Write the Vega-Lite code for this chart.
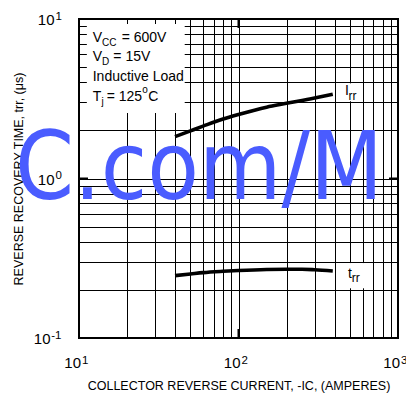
{
  "$schema": "https://vega.github.io/schema/vega-lite/v6.json",
  "width": 319,
  "height": 319,
  "autosize": {"type": "none"},
  "padding": {"left": 79, "top": 19, "right": 8, "bottom": 61},
  "background": "white",
  "config": {
    "view": {"stroke": "black", "strokeWidth": 2},
    "font": "Liberation Sans",
    "axis": {
      "domain": false,
      "ticks": false,
      "tickSize": 0,
      "gridColor": "black",
      "gridWidth": 1,
      "gridOpacity": 1,
      "labelFont": "Liberation Sans",
      "labelColor": "black",
      "labelOverlap": false,
      "labelFlush": false,
      "labelBound": false,
      "titleFont": "Liberation Sans",
      "titleFontSize": 12.5,
      "titleFontWeight": "normal",
      "titleColor": "black"
    }
  },
  "data": {"values": [{}]},
  "datasets": {
    "curves": [
      {"series": "Irr", "ic": 40, "t": 1.83},
      {"series": "Irr", "ic": 50, "t": 1.99},
      {"series": "Irr", "ic": 60, "t": 2.13},
      {"series": "Irr", "ic": 80, "t": 2.36},
      {"series": "Irr", "ic": 100, "t": 2.52},
      {"series": "Irr", "ic": 150, "t": 2.8},
      {"series": "Irr", "ic": 200, "t": 2.96},
      {"series": "Irr", "ic": 300, "t": 3.2},
      {"series": "Irr", "ic": 390, "t": 3.38},
      {"series": "trr", "ic": 40, "t": 0.246},
      {"series": "trr", "ic": 50, "t": 0.252},
      {"series": "trr", "ic": 60, "t": 0.257},
      {"series": "trr", "ic": 80, "t": 0.262},
      {"series": "trr", "ic": 100, "t": 0.265},
      {"series": "trr", "ic": 150, "t": 0.269},
      {"series": "trr", "ic": 200, "t": 0.27},
      {"series": "trr", "ic": 250, "t": 0.27},
      {"series": "trr", "ic": 300, "t": 0.268},
      {"series": "trr", "ic": 390, "t": 0.263}
    ],
    "notes": [
      {"role": "main", "text": "V", "x": 12.19, "y": 7.176},
      {"role": "sub", "text": "CC", "x": 13.94, "y": 6.77},
      {"role": "main", "text": "= 600V", "x": 18.52, "y": 7.176},
      {"role": "main", "text": "V", "x": 12.19, "y": 5.43},
      {"role": "sub", "text": "D", "x": 13.94, "y": 5.125},
      {"role": "main", "text": "= 15V", "x": 16.41, "y": 5.43},
      {"role": "main", "text": "Inductive Load", "x": 12.19, "y": 4.07},
      {"role": "main", "text": "T", "x": 12.19, "y": 3.07},
      {"role": "sub", "text": "j", "x": 13.84, "y": 2.902},
      {"role": "main", "text": "= 125", "x": 14.92, "y": 3.07},
      {"role": "sup", "text": "o", "x": 24.94, "y": 3.436},
      {"role": "main", "text": "C", "x": 27.2, "y": 3.07},
      {"role": "main", "text": "I", "x": 465, "y": 3.338},
      {"role": "csub", "text": "rr", "x": 489.5, "y": 3.106},
      {"role": "main", "text": "t", "x": 486, "y": 0.2378},
      {"role": "csub", "text": "rr", "x": 512.5, "y": 0.2245}
    ]
  },
  "resolve": {"axis": {"x": "independent", "y": "independent"}},
  "layer": [
    {
      "mark": {"type": "rect", "fill": "white"},
      "encoding": {
        "x": {"datum": 11.2, "type": "quantitative", "axis": null},
        "x2": {"datum": 46},
        "y": {"datum": 2.575, "type": "quantitative", "axis": null},
        "y2": {"datum": 9.3}
      }
    },
    {
      "mark": {"type": "rect", "fill": "white"},
      "encoding": {
        "x": {"datum": 433, "type": "quantitative", "axis": null},
        "x2": {"datum": 595},
        "y": {"datum": 3.05, "type": "quantitative", "axis": null},
        "y2": {"datum": 3.95}
      }
    },
    {
      "mark": {"type": "rect", "fill": "white"},
      "encoding": {
        "x": {"datum": 446, "type": "quantitative", "axis": null},
        "x2": {"datum": 621},
        "y": {"datum": 0.205, "type": "quantitative", "axis": null},
        "y2": {"datum": 0.295}
      }
    },
    {
      "data": {"name": "curves"},
      "mark": {"type": "line", "color": "black", "strokeWidth": 3.6, "interpolate": "monotone"},
      "encoding": {
        "x": {
          "field": "ic",
          "type": "quantitative",
          "scale": {"type": "log", "domain": [10, 1000], "nice": false, "zero": false},
          "axis": {
            "orient": "bottom",
            "grid": true,
            "title": "COLLECTOR REVERSE CURRENT, -IC, (AMPERES)",
            "values": [10, 20, 30, 40, 50, 60, 70, 80, 90, 100, 200, 300, 400, 500, 600, 700, 800, 900, 1000],
            "labelExpr": "datum.value == 10 || datum.value == 100 || datum.value == 1000 ? '10' : ''",
            "labelFontSize": 15,
            "labelAlign": "right",
            "labelBaseline": "alphabetic",
            "labelPadding": 29.3,
            "labelOffset": 1.5,
            "titleAlign": "center",
            "titleBaseline": "alphabetic",
            "titleX": 159.5,
            "titleY": 51
          }
        },
        "y": {
          "field": "t",
          "type": "quantitative",
          "scale": {"type": "log", "domain": [0.1, 10], "nice": false, "zero": false},
          "axis": {
            "orient": "left",
            "grid": true,
            "title": "REVERSE RECOVERY TIME, trr, (μs)",
            "values": [0.1, 0.2, 0.3, 0.4, 0.5, 0.6, 0.7, 0.8, 0.9, 1, 2, 3, 4, 5, 6, 7, 8, 9, 10],
            "labelExpr": "datum.value == 10 || datum.value == 1 || datum.value == 0.1 ? '10' : ''",
            "labelFontSize": 15,
            "labelAlign": "right",
            "labelBaseline": "alphabetic",
            "labelPadding": {"condition": {"test": "datum.value == 0.1", "value": 29}, "value": 25},
            "labelOffset": 5.5,
            "titleAngle": -90,
            "titleAlign": "center",
            "titleBaseline": "alphabetic",
            "titleX": -57,
            "titleY": 159.5
          }
        },
        "detail": {"field": "series"}
      }
    },
    {
      "data": {"name": "notes"},
      "transform": [{"filter": "datum.role == 'main'"}],
      "mark": {"type": "text", "align": "left", "baseline": "alphabetic", "fontSize": 14, "font": "Liberation Sans", "color": "black"},
      "encoding": {
        "x": {"field": "x", "type": "quantitative", "axis": null},
        "y": {"field": "y", "type": "quantitative", "axis": null},
        "text": {"field": "text"}
      }
    },
    {
      "data": {"name": "notes"},
      "transform": [{"filter": "datum.role == 'sub' || datum.role == 'sup'"}],
      "mark": {"type": "text", "align": "left", "baseline": "alphabetic", "fontSize": 10, "font": "Liberation Sans", "color": "black"},
      "encoding": {
        "x": {"field": "x", "type": "quantitative", "axis": null},
        "y": {"field": "y", "type": "quantitative", "axis": null},
        "text": {"field": "text"}
      }
    },
    {
      "data": {"name": "notes"},
      "transform": [{"filter": "datum.role == 'csub'"}],
      "mark": {"type": "text", "align": "left", "baseline": "alphabetic", "fontSize": 12, "font": "Liberation Sans", "color": "black"},
      "encoding": {
        "x": {"field": "x", "type": "quantitative", "axis": null},
        "y": {"field": "y", "type": "quantitative", "axis": null},
        "text": {"field": "text"}
      }
    },
    {
      "mark": {"type": "rule", "color": "black", "strokeWidth": 2},
      "encoding": {
        "x": {
          "datum": 100,
          "type": "quantitative",
          "axis": {
            "orient": "bottom",
            "grid": false,
            "title": null,
            "values": [10, 100, 1000],
            "labelExpr": "datum.value == 10 ? '1' : datum.value == 100 ? '2' : '3'",
            "labelFontSize": 11.5,
            "labelAlign": "left",
            "labelBaseline": "alphabetic",
            "labelPadding": 25.3,
            "labelOffset": 2.5
          }
        },
        "y": {
          "datum": 0.1,
          "type": "quantitative",
          "axis": {
            "orient": "left",
            "grid": false,
            "title": null,
            "values": [0.1, 1, 10],
            "labelExpr": "datum.value == 10 ? '1' : datum.value == 1 ? '0' : '-1'",
            "labelFontSize": 11.5,
            "labelAlign": "left",
            "labelBaseline": "alphabetic",
            "labelPadding": {"condition": {"test": "datum.value == 0.1", "value": 28.3}, "value": 24},
            "labelOffset": 0
          }
        },
        "y2": {"datum": 0.1139}
      }
    },
    {
      "mark": {"type": "rule", "color": "black", "strokeWidth": 2},
      "encoding": {
        "x": {"datum": 100, "type": "quantitative", "axis": null},
        "y": {"datum": 10, "type": "quantitative", "axis": null},
        "y2": {"datum": 8.78}
      }
    },
    {
      "mark": {"type": "rule", "color": "black", "strokeWidth": 2},
      "encoding": {
        "y": {"datum": 1, "type": "quantitative", "axis": null},
        "x": {"datum": 10, "type": "quantitative", "axis": null},
        "x2": {"datum": 11.39}
      }
    },
    {
      "mark": {"type": "rule", "color": "black", "strokeWidth": 2},
      "encoding": {
        "y": {"datum": 1, "type": "quantitative", "axis": null},
        "x": {"datum": 1000, "type": "quantitative", "axis": null},
        "x2": {"datum": 878}
      }
    },
    {
      "mark": {"type": "text", "text": "C.com/M", "font": "DejaVu Sans Condensed, Liberation Sans Narrow, Liberation Sans", "fontSize": 94, "color": "#4a5cff", "align": "center", "baseline": "alphabetic"},
      "encoding": {
        "x": {"datum": 56.5, "type": "quantitative", "axis": null},
        "y": {"datum": 0.744, "type": "quantitative", "axis": null}
      }
    }
  ]
}
